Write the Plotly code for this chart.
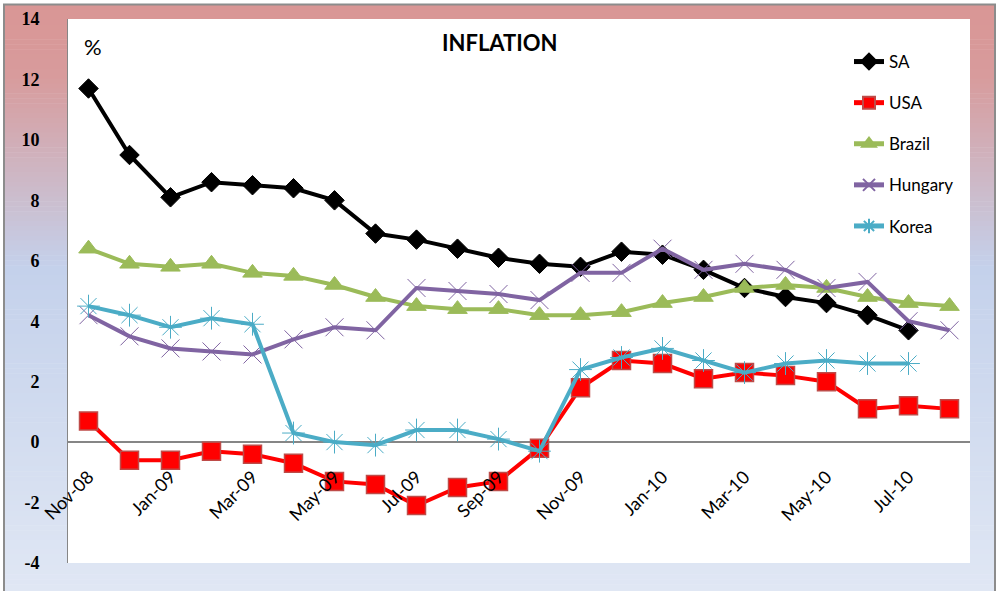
import plotly.graph_objects as go

months = ["Nov-08", "Dec-08", "Jan-09", "Feb-09", "Mar-09", "Apr-09", "May-09", "Jun-09",
          "Jul-09", "Aug-09", "Sep-09", "Oct-09", "Nov-09", "Dec-09", "Jan-10", "Feb-10",
          "Mar-10", "Apr-10", "May-10", "Jun-10", "Jul-10", "Aug-10"]
tick_labels = months[::2]
y_ticks = [-4, -2, 0, 2, 4, 6, 8, 10, 12, 14]
y_tick_labels = ["-4", "-2", "0", "2", "4", "6", "8", "10", "12", "14"]

sa = [11.7, 9.5, 8.1, 8.6, 8.5, 8.4, 8.0, 6.9, 6.7, 6.4, 6.1, 5.9, 5.8, 6.3, 6.2, 5.7,
      5.1, 4.8, 4.6, 4.2, 3.7, None]
usa = [0.7, -0.6, -0.6, -0.3, -0.4, -0.7, -1.3, -1.4, -2.1, -1.5, -1.3, -0.2, 1.8, 2.7,
       2.6, 2.1, 2.3, 2.2, 2.0, 1.1, 1.2, 1.1]
brazil = [6.4, 5.9, 5.8, 5.9, 5.6, 5.5, 5.2, 4.8, 4.5, 4.4, 4.4, 4.2, 4.2, 4.3, 4.6, 4.8,
          5.1, 5.2, 5.1, 4.8, 4.6, 4.5]
hungary = [4.2, 3.5, 3.1, 3.0, 2.9, 3.4, 3.8, 3.7, 5.1, 5.0, 4.9, 4.7, 5.6, 5.6, 6.4, 5.7,
           5.9, 5.7, 5.1, 5.3, 4.0, 3.7]
korea = [4.5, 4.2, 3.8, 4.1, 3.9, 0.3, 0.0, -0.1, 0.4, 0.4, 0.1, -0.3, 2.4, 2.8, 3.1, 2.7,
         2.3, 2.6, 2.7, 2.6, 2.6, None]

W, H = 996, 591
L, R, T, B = 68, 970, 19, 563


def px(xp):
    return (xp - L) / (R - L)


def py(yp):
    return (B - yp) / (B - T)


fig = go.Figure()

series = [
    ("SA", sa, "#000000", dict(symbol="diamond", size=15, color="#000000",
                                line=dict(color="#000000", width=1))),
    ("USA", usa, "#FF0000", dict(symbol="square", size=18, color="#FF0000",
                                 line=dict(color="#BE4B48", width=1.5))),
    ("Brazil", brazil, "#9BBB59", dict(symbol="triangle-up", size=17, color="#9BBB59",
                                       line=dict(color="#9BBB59", width=1))),
    ("Hungary", hungary, "#8064A2", dict(symbol="x-thin-open", size=18, color="#8064A2",
                                         line=dict(color="#8064A2", width=1))),
    ("Korea", korea, "#4BACC6", dict(symbol="asterisk-open", size=19, color="#4BACC6",
                                     line=dict(color="#4BACC6", width=1))),
]
for name, vals, col, mk in series:
    fig.add_trace(go.Scatter(x=months, y=vals, name=name, mode="lines+markers",
                             line=dict(color=col, width=4), marker=mk,
                             legendgroup=name, connectgaps=False))

# background gradient bands
def lerp(c1, c2, t):
    return tuple(round(a + (b - a) * t) for a, b in zip(c1, c2))

stops = [(0.0, (217, 150, 149)), (0.12, (216, 155, 156)), (0.45, (196, 209, 235)),
         (1.0, (224, 231, 244))]
shapes = []
top_px, bot_px = 5, 594
n = 120
for i in range(n):
    y0 = top_px + (bot_px - top_px) * i / n
    y1 = top_px + (bot_px - top_px) * (i + 1) / n
    t = (i + 0.5) / n * (bot_px - top_px) / (591 - top_px)
    t = min(t, 1.0)
    for j in range(len(stops) - 1):
        if stops[j][0] <= t <= stops[j + 1][0]:
            tt = (t - stops[j][0]) / (stops[j + 1][0] - stops[j][0])
            c = lerp(stops[j][1], stops[j + 1][1], tt)
            break
    shapes.append(dict(type="rect", xref="paper", yref="paper", layer="below",
                       x0=px(5), x1=px(995), y0=py(y1 + 0.5), y1=py(y0),
                       fillcolor="rgb(%d,%d,%d)" % c, line=dict(width=0)))
shapes.append(dict(type="rect", xref="paper", yref="paper", layer="below",
                   x0=0, x1=1, y0=0, y1=1, fillcolor="white", line=dict(width=0)))
shapes.append(dict(type="rect", xref="paper", yref="paper", layer="below",
                   x0=px(4), x1=px(995), y0=py(596), y1=py(4.5),
                   fillcolor="rgba(0,0,0,0)", line=dict(color="#8C8C8C", width=2)))

fig.update_layout(
    width=W, height=H,
    margin=dict(l=L, r=W - R, t=T, b=H - B, pad=0, autoexpand=False),
    paper_bgcolor="white", plot_bgcolor="white",
    shapes=shapes,
    showlegend=True,
    legend=dict(x=px(849), y=py(44), xanchor="left", yanchor="top",
                bgcolor="rgba(0,0,0,0)", tracegroupgap=16, itemsizing="constant",
                font=dict(family="Lato", size=17, color="#000000")),
    xaxis=dict(type="category", range=[-0.5, 21.5], anchor="free", position=4 / 18,
               automargin=False,
               tickmode="array", tickvals=tick_labels, ticktext=tick_labels,
               tickangle=-45, ticks="", showgrid=False, showline=False, zeroline=False,
               ticklabelstandoff=20,
               tickfont=dict(family="Lato", size=18, color="#000000")),
    yaxis=dict(range=[-4, 14], tickmode="array", tickvals=y_ticks, ticktext=y_tick_labels,
               showgrid=False, showline=True, automargin=False,
               linecolor="#868686", linewidth=1, ticks="", zeroline=True,
               zerolinecolor="#868686", zerolinewidth=2, ticklabelstandoff=24,
               tickfont=dict(family="Liberation Serif", size=18, color="#000000",
                             weight="bold")),
    annotations=[
        dict(text="<b>INFLATION</b>", x=px(500), y=py(43), xref="paper", yref="paper",
             xanchor="center", yanchor="middle",
             showarrow=False, font=dict(family="Lato", size=22, color="#000000")),
        dict(text="%", x=px(93), y=py(46), xref="paper", yref="paper",
             xanchor="center", yanchor="middle",
             showarrow=False, font=dict(family="Lato", size=22, color="#000000")),
    ],
)

fig.write_html("out.html", config={"displayModeBar": False},
               post_script="document.body.style.margin='0';document.body.style.overflow='hidden';")
